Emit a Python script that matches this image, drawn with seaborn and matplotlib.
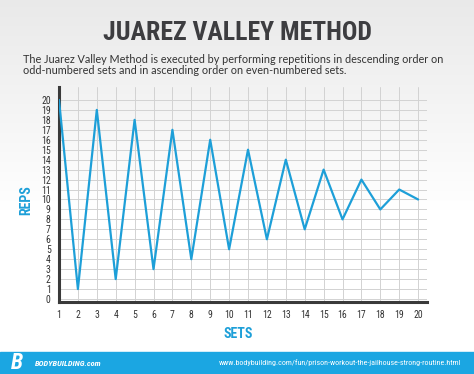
import numpy as np
import pandas as pd
import matplotlib
matplotlib.use("Agg")
import matplotlib.pyplot as plt
import seaborn as sns
from matplotlib.patches import Rectangle

sets = list(range(1, 21))
reps = [20, 1, 19, 2, 18, 3, 17, 4, 16, 5, 15, 6, 14, 7, 13, 8, 12, 9, 11, 10]
y_ticks = list(range(0, 21))
title = "JUAREZ VALLEY METHOD"
subtitle = ("The Juarez Valley Method is executed by performing repetitions in descending order on\n"
            "odd-numbered sets and in ascending order on even-numbered sets.")
url = "www.bodybuilding.com/fun/prison-workout-the-jailhouse-strong-routine.html"

sns.set_theme(style="white")
COND = ['Roboto Condensed', 'DejaVu Sans']
plt.rcParams['font.family'] = COND

W, H = 474, 374
fig = plt.figure(figsize=(W/100, H/100), dpi=100)
fig.patch.set_facecolor('white')

# background gradient
bg = fig.add_axes([0, 0, 1, 1], zorder=-10)
ys = np.arange(H)
g = np.clip(0.915 + 0.085 * (ys / 210.0), 0.915, 1.0)
img = np.repeat(np.stack([g, g, g], axis=-1)[:, None, :], 2, axis=1)
bg.imshow(img, aspect='auto', extent=[0, 1, 0, 1], origin='upper')
bg.add_patch(Rectangle((0, 0), 1, 22/H, color='#1ba6e2', transform=bg.transAxes))
bg.set_xlim(0, 1); bg.set_ylim(0, 1)
bg.axis('off')

ax = fig.add_axes([59/W, (H-302)/H, (427-59)/W, (302-87)/H])
ax.patch.set_alpha(0)
df = pd.DataFrame({"Sets": sets, "Reps": reps})
sns.lineplot(data=df, x="Sets", y="Reps", ax=ax, color='#1d9fd8', linewidth=1.6, zorder=3)
ax.set_xlim(1, 20.47)
ax.set_ylim(-0.3, 21.3)
ax.set_xticks(sets)
ax.set_yticks(y_ticks)
ax.set_xticklabels([str(s) for s in sets], fontsize=7, color='#333333')
ax.set_yticklabels([str(v) for v in y_ticks], fontsize=7, color='#333333')
ax.tick_params(axis='both', length=0, pad=6)
ax.tick_params(axis='x', pad=6)
ax.grid(True, color='#d2d2d2', linewidth=0.7)
for s in ['top', 'right']:
    ax.spines[s].set_visible(False)
for s in ['left', 'bottom']:
    ax.spines[s].set_color('#3a3a3a')
    ax.spines[s].set_linewidth(2.2)
ax.set_xlabel("")
ax.set_ylabel("")

fig.text(26/W, 1 - 200/H, "REPS", rotation=90, ha='center', va='center',
         fontsize=10, fontweight='bold', color='#1d9fd8')
fig.text(238/W, 1 - 334/H, "SETS", ha='center', va='center',
         fontsize=10, fontweight='bold', color='#1d9fd8')

fig.text(237/W, 1 - 40/H, title, ha='center', va='baseline', fontsize=18.5,
         fontweight='bold', color='#3d3d40')
fig.text(23/W, 1 - 65/H, subtitle, ha='left', va='center', fontsize=7.8,
         color='#333333', family=['Lato', 'DejaVu Sans'], linespacing=1.05)

fig.text(17/W, 1 - 363/H, "B", ha='center', va='center', fontsize=16,
         fontweight='bold', style='italic', color='white')
fig.text(35/W, 1 - 363/H, "BODYBUILDING.com", ha='left', va='center', fontsize=6,
         fontweight='bold', style='italic', color='white')
fig.text(461/W, 1 - 363/H, url, ha='right', va='center', fontsize=5.8, color='white')

fig.savefig("out.png", dpi=100)
